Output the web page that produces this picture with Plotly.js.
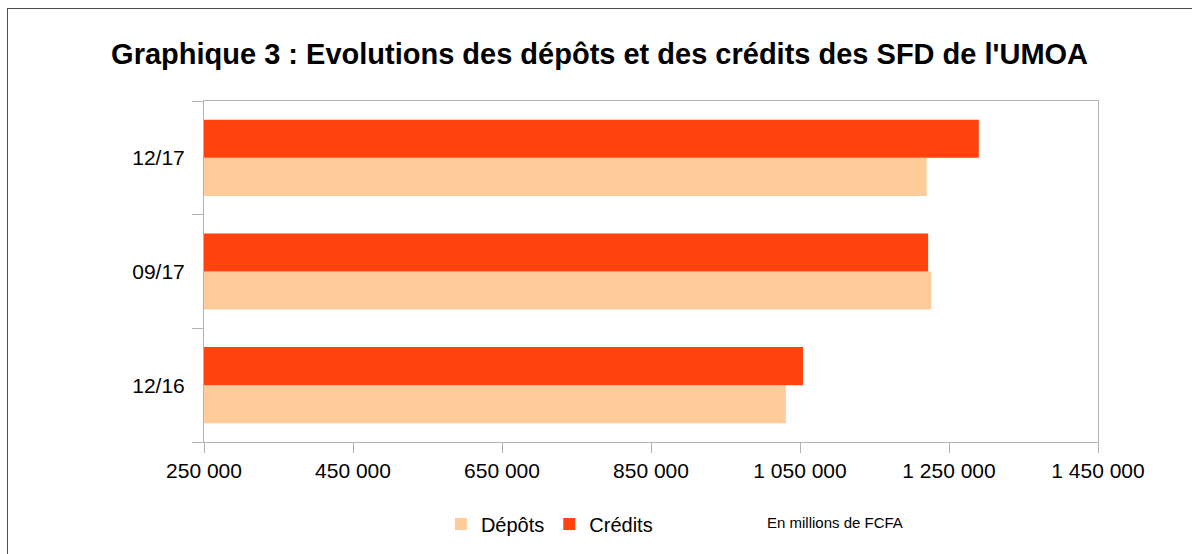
<!DOCTYPE html>
<html>
<head>
<meta charset="utf-8">
<script src="https://cdn.plot.ly/plotly-3.0.1.min.js"></script>
<style>
  body { margin: 0; background: #ffffff; }
  #wrap { position: relative; width: 1192px; height: 554px; overflow: hidden; }
  #plot { width: 1192px; height: 554px; }
  #frame { position: absolute; left: 7px; top: 8px; width: 1300px; height: 700px;
           border: 1px solid #4d4d4d; pointer-events: none; }
</style>
</head>
<body>
<div id="wrap">
  <div id="plot"></div>
  <div id="frame"></div>
</div>
<script>
const periods = ["12/16", "09/17", "12/17"];
const depots = [1031000, 1226000, 1220000];
const credits = [1054000, 1222000, 1290000];
const xTicks = [250000, 450000, 650000, 850000, 1050000, 1250000, 1450000];

const font = "Liberation Sans, Arial, sans-serif";

const traces = [
    {
        type: "bar",
        orientation: "h",
        name: "Dépôts",
        y: periods,
        x: depots,
        marker: { color: "#ffcc99" },
        hoverinfo: "x"
    },
    {
        type: "bar",
        orientation: "h",
        name: "Crédits",
        y: periods,
        x: credits,
        marker: { color: "#ff420e" },
        hoverinfo: "x"
    }
];

const layout = {
    width: 1192,
    height: 554,
    margin: { l: 204, r: 94, t: 101, b: 111 },
    paper_bgcolor: "#ffffff",
    plot_bgcolor: "#ffffff",
    separators: ", ",
    font: { family: font, size: 20, color: "#000000" },
    barmode: "group",
    bargap: 0.33,
    bargroupgap: 0,
    title: {
        text: "<b>Graphique 3 : Evolutions des dépôts et des crédits des SFD de l'UMOA</b>",
        font: { family: font, size: 29, color: "#000000" },
        x: 0.503,
        xanchor: "center",
        y: 0.902,
        yanchor: "middle"
    },
    xaxis: {
        range: [250000, 1450000],
        tickvals: xTicks,
        tickformat: ",d",
        showgrid: false,
        zeroline: false,
        showline: true,
        mirror: true,
        linecolor: "#b3b3b3",
        linewidth: 1,
        ticks: "outside",
        ticklen: 10,
        tickcolor: "#b3b3b3",
        tickfont: { family: font, size: 21, color: "#000000" },
        fixedrange: true
    },
    yaxis: {
        type: "category",
        categoryorder: "array",
        categoryarray: periods,
        showgrid: false,
        zeroline: false,
        showline: true,
        mirror: true,
        linecolor: "#b3b3b3",
        linewidth: 1,
        ticks: "outside",
        tickson: "boundaries",
        ticklen: 11,
        tickcolor: "#b3b3b3",
        ticklabelstandoff: 14,
        tickfont: { family: font, size: 21, color: "#000000" },
        fixedrange: true
    },
    showlegend: true,
    legend: {
        orientation: "h",
        x: 0.265,
        xanchor: "left",
        y: -0.237,
        yanchor: "middle",
        traceorder: "normal",
        font: { family: font, size: 20, color: "#000000" },
        itemwidth: 30
    },
    annotations: [
        {
            text: "En millions de FCFA",
            xref: "paper",
            yref: "paper",
            x: 0.706,
            y: -0.237,
            xanchor: "center",
            yanchor: "middle",
            showarrow: false,
            font: { family: font, size: 15, color: "#000000" }
        }
    ]
};

Plotly.newPlot("plot", traces, layout, { displayModeBar: false, staticPlot: true });
</script>
</body>
</html>
